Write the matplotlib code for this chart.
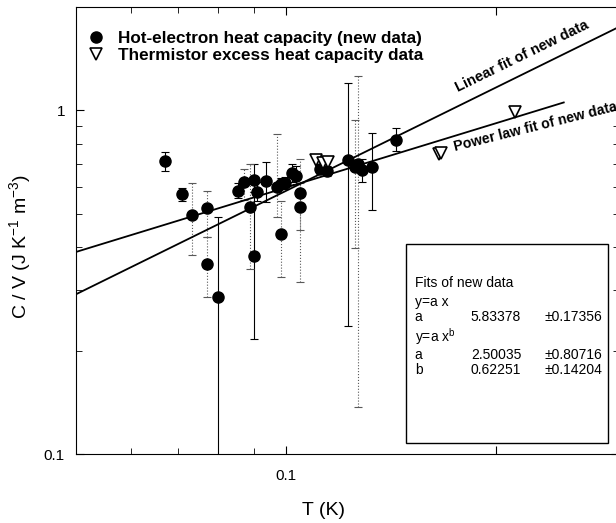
import numpy as np
import matplotlib.pyplot as plt
from matplotlib.patches import Rectangle
from matplotlib.ticker import LogLocator, NullFormatter

plt.rcParams['font.family'] = ['Liberation Sans', 'DejaVu Sans']
plt.rcParams['mathtext.default'] = 'regular'

# hot-electron heat capacity (new data), with error bar limits
T_new = [0.0671, 0.0710, 0.0733, 0.0770, 0.0770, 0.0800, 0.0852, 0.0870, 0.0888, 0.0900,
         0.0900, 0.0910, 0.0935, 0.0972, 0.0983, 0.0983, 0.0997, 0.1021, 0.1034, 0.1047,
         0.1047, 0.1118, 0.1145, 0.1228, 0.1255, 0.1268, 0.1283, 0.1330, 0.1437]
C_new = [0.7115, 0.5716, 0.4974, 0.5203, 0.3573, 0.2860, 0.5845, 0.6197, 0.5224, 0.3778,
         0.6280, 0.5785, 0.6237, 0.6004, 0.4370, 0.6114, 0.6138, 0.6553, 0.6452, 0.5746,
         0.5220, 0.6760, 0.6685, 0.7181, 0.6832, 0.7000, 0.6717, 0.6832, 0.8214]
C_lo = [0.6653, 0.5465, 0.3796, 0.4272, 0.2856, 0.0500, 0.5550, 0.5480, 0.3463, 0.2160,
        0.5800, 0.5450, 0.5404, 0.4900, 0.3266, 0.5900, 0.5900, 0.6200, 0.6100, 0.4500,
        0.3173, 0.6550, 0.6450, 0.2361, 0.3979, 0.1371, 0.6180, 0.5133, 0.7606]
C_hi = [0.7557, 0.5953, 0.6128, 0.5817, 0.4272, 0.4885, 0.6150, 0.6760, 0.7005, 0.5780,
        0.7000, 0.6200, 0.7067, 0.8550, 0.5465, 0.6350, 0.6400, 0.7000, 0.6900, 0.7245,
        0.6128, 0.7000, 0.6900, 1.2010, 0.9350, 1.2560, 0.7245, 0.8586, 0.8879]
bar_dotted = [0, 0, 1, 1, 1, 0, 0, 1, 1, 0,
              0, 0, 0, 1, 1, 0, 0, 0, 0, 1,
              1, 0, 0, 0, 1, 1, 0, 0, 0]

# thermistor excess heat capacity data
T_th = [0.1104, 0.1130, 0.1148, 0.1655, 0.1665, 0.2126]
C_th = [0.7150, 0.7021, 0.7067, 0.7450, 0.7500, 0.9886]

# fit parameters
a_lin = 5.83378
a_pow = 2.50035
b_pow = 0.62251
T_lin_range = [0.05, 0.32]
T_pow_range = [0.05, 0.25]

x_tick_vals = [0.1, 0.2]
x_tick_labels = ['0.1', '']
y_tick_vals = [0.1, 1]
y_tick_labels = ['0.1', '1']

fit_rows = [('Fits of new data', '', ''),
            ('y=a x', '', ''),
            ('a', '5.83378', '\u00b10.17356'),
            ('y=a x$^{b}$', '', ''),
            ('a', '2.50035', '\u00b10.80716'),
            ('b', '0.62251', '\u00b10.14204')]
row_y = [0.3826, 0.340, 0.3065, 0.262, 0.221, 0.187]

fig = plt.figure(figsize=(6.16, 5.23), dpi=100)
ax = fig.add_axes([76 / 616, 69 / 523, 543 / 616, 447 / 523])

T_new = np.array(T_new)
C_new = np.array(C_new)
C_lo = np.array(C_lo)
C_hi = np.array(C_hi)
dotted = np.array(bar_dotted, dtype=bool)

# error bars: solid black and dotted grey ones
for mask, ls, col in [(~dotted, '-', 'black'), (dotted, ':', '0.35')]:
    eb = ax.errorbar(T_new[mask], C_new[mask],
                     yerr=[C_new[mask] - C_lo[mask], C_hi[mask] - C_new[mask]],
                     fmt='none', ecolor=col, elinewidth=0.8, capsize=3, capthick=0.8, zorder=1)
    for lc in eb[2]:
        lc.set_linestyle(ls)

T_lin = np.array(T_lin_range)
T_pow = np.array(T_pow_range)
ax.plot(T_lin, a_lin * T_lin, color='black', lw=1.3, zorder=2)
ax.plot(T_pow, a_pow * T_pow ** b_pow, color='black', lw=1.3, zorder=2)

ax.plot(T_new, C_new, 'o', color='black', ms=8, zorder=3,
        label='Hot-electron heat capacity (new data)')
ax.plot(T_th, C_th, 'v', mfc='white', mec='black', mew=1.2, ms=9, zorder=3,
        label='Thermistor excess heat capacity data')

ax.set_xscale('log')
ax.set_yscale('log')
ax.set_xlim(0.05, 0.3)
ax.set_ylim(0.1, 2.0)

ax.set_xticks(x_tick_vals, x_tick_labels)
ax.set_yticks(y_tick_vals, y_tick_labels)
ax.xaxis.set_minor_locator(LogLocator(subs=np.arange(2, 10)))
ax.yaxis.set_minor_locator(LogLocator(subs=np.arange(2, 10)))
ax.xaxis.set_minor_formatter(NullFormatter())
ax.yaxis.set_minor_formatter(NullFormatter())
ax.tick_params(which='both', direction='in', top=True, right=True, labelsize=11)
ax.tick_params(which='major', length=6)
ax.tick_params(which='minor', length=4)
ax.tick_params(axis='x', pad=11)
ax.tick_params(axis='y', pad=8)

ax.set_xlabel('T (K)', fontsize=14)
ax.set_ylabel('C / V (J K$^{-1}$ m$^{-3}$)', fontsize=14)
ax.xaxis.set_label_coords(0.455, -0.107)
ax.yaxis.set_label_coords(-0.079, 0.463)

ax.legend(loc='upper left', bbox_to_anchor=(-0.012, 0.985), frameon=False,
          prop={'weight': 'bold', 'size': 12.3}, handletextpad=0.75,
          labelspacing=0.13, borderaxespad=0.6, handlelength=1.1)

ax.text(0.1763, 1.13, 'Linear fit of new data', rotation=26, rotation_mode='anchor',
        ha='left', va='baseline', fontsize=10.5, fontweight='bold')
ax.text(0.1745, 0.762, 'Power law fit of new data', rotation=14, rotation_mode='anchor',
        ha='left', va='baseline', fontsize=10.2, fontweight='bold')

# fit results box
ax.add_patch(Rectangle((0.608, 0.0246), 0.372, 0.445, transform=ax.transAxes,
                       facecolor='white', edgecolor='black', lw=1.0, zorder=4))
for (c1, c2, c3), y in zip(fit_rows, row_y):
    for x, s in [(0.624, c1), (0.727, c2), (0.862, c3)]:
        if s:
            ax.text(x, y, s, transform=ax.transAxes, fontsize=10, va='center', zorder=5)

fig.savefig('out.png', dpi=100)
